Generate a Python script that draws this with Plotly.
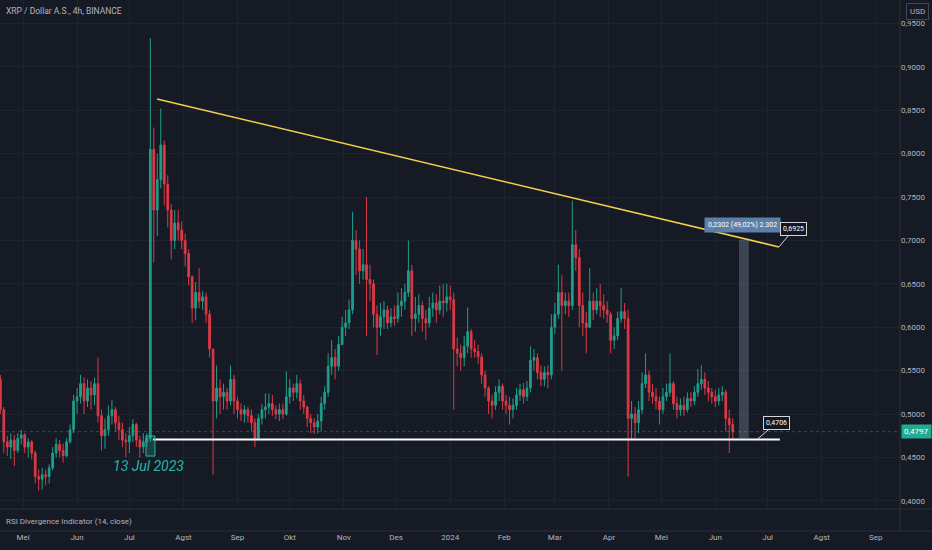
import pandas as pd
import plotly.graph_objects as go

W, H = 932, 550
BG = "#161a25"
GRID = "#1f2330"
TXT = "#b2b5be"

# XRP / USD, 2-day candles (open = previous close)
start_date = "2023-04-18"
first_open = 0.540
close = [
    0.505, 0.468, 0.462, 0.470, 0.458, 0.472, 0.476,  # Apr
    0.462, 0.468, 0.455, 0.428, 0.425, 0.430, 0.428, 0.438, 0.455, 0.465, 0.458, 0.452, 0.468, 0.482, 0.515,  # May
    0.520, 0.535, 0.515, 0.530, 0.522, 0.535, 0.498, 0.475, 0.482, 0.498, 0.505, 0.490, 0.482, 0.470, 0.468,  # Jun
    0.475, 0.488, 0.470, 0.462, 0.468, 0.472, 0.805, 0.735, 0.770, 0.810, 0.765, 0.735, 0.700, 0.720, 0.712, 0.700,  # Jul
    0.685, 0.658, 0.622, 0.640, 0.630, 0.635, 0.615, 0.575, 0.515, 0.530, 0.520, 0.525, 0.515, 0.540, 0.515,  # Aug
    0.505, 0.500, 0.505, 0.498, 0.490, 0.472, 0.495, 0.505, 0.508, 0.512, 0.505, 0.500, 0.505, 0.500, 0.520,  # Sep
    0.530, 0.525, 0.535, 0.515, 0.508, 0.495, 0.490, 0.485, 0.492, 0.512, 0.525, 0.555, 0.565, 0.555, 0.580, 0.600,  # Oct
    0.605, 0.620, 0.700, 0.690, 0.665, 0.672, 0.655, 0.650, 0.615, 0.600, 0.612, 0.620, 0.605, 0.612, 0.610,  # Nov
    0.625, 0.630, 0.640, 0.665, 0.610, 0.615, 0.625, 0.610, 0.605, 0.622, 0.628, 0.620, 0.630, 0.628, 0.635,  # Dec
    0.632, 0.575, 0.570, 0.565, 0.578, 0.595, 0.575, 0.572, 0.566, 0.545, 0.530, 0.515, 0.510, 0.525, 0.532, 0.515,  # Jan
    0.510, 0.505, 0.510, 0.522, 0.528, 0.520, 0.530, 0.562, 0.565, 0.548, 0.540, 0.548, 0.545, 0.600,  # Feb
    0.615, 0.640, 0.625, 0.630, 0.625, 0.695, 0.680, 0.625, 0.605, 0.600, 0.630, 0.620, 0.630, 0.625, 0.620, 0.615,  # Mar
    0.585, 0.590, 0.610, 0.618, 0.610, 0.495, 0.500, 0.490, 0.505, 0.535, 0.545, 0.525, 0.520, 0.515, 0.505,  # Apr
    0.520, 0.525, 0.535, 0.512, 0.505, 0.510, 0.505, 0.518, 0.515, 0.525, 0.535, 0.540, 0.530, 0.525, 0.520, 0.515,  # May
    0.522, 0.525, 0.495, 0.488, 0.4797,  # Jun
]
high = [
    0.545, 0.508, 0.475, 0.478, 0.476, 0.478, 0.482,
    0.478, 0.472, 0.470, 0.458, 0.436, 0.438, 0.436, 0.442, 0.462, 0.472, 0.470, 0.466, 0.472, 0.488, 0.522,
    0.530, 0.545, 0.542, 0.540, 0.538, 0.542, 0.565, 0.505, 0.495, 0.510, 0.516, 0.508, 0.498, 0.490, 0.478,
    0.485, 0.494, 0.490, 0.475, 0.478, 0.478, 0.933, 0.830, 0.800, 0.852, 0.815, 0.775, 0.742, 0.735, 0.735, 0.722,
    0.708, 0.690, 0.660, 0.652, 0.668, 0.642, 0.640, 0.620, 0.575, 0.556, 0.540, 0.535, 0.530, 0.556, 0.545,
    0.520, 0.512, 0.510, 0.508, 0.505, 0.495, 0.500, 0.512, 0.524, 0.524, 0.522, 0.510, 0.512, 0.512, 0.549,
    0.540, 0.535, 0.545, 0.540, 0.522, 0.510, 0.500, 0.495, 0.500, 0.520, 0.532, 0.570, 0.585, 0.575, 0.590, 0.612,
    0.620, 0.632, 0.733, 0.712, 0.700, 0.690, 0.750, 0.672, 0.655, 0.625, 0.628, 0.630, 0.625, 0.622, 0.625,
    0.640, 0.645, 0.650, 0.700, 0.672, 0.635, 0.638, 0.630, 0.620, 0.635, 0.640, 0.638, 0.648, 0.650, 0.650,
    0.648, 0.640, 0.588, 0.580, 0.590, 0.623, 0.598, 0.585, 0.580, 0.570, 0.550, 0.532, 0.522, 0.532, 0.540, 0.535,
    0.522, 0.520, 0.518, 0.530, 0.535, 0.536, 0.538, 0.578, 0.575, 0.570, 0.556, 0.555, 0.556, 0.615,
    0.628, 0.672, 0.660, 0.640, 0.640, 0.746, 0.712, 0.690, 0.640, 0.618, 0.668, 0.640, 0.645, 0.650, 0.638, 0.630,
    0.618, 0.600, 0.618, 0.645, 0.628, 0.620, 0.515, 0.508, 0.515, 0.548, 0.570, 0.550, 0.535, 0.530, 0.520,
    0.530, 0.535, 0.570, 0.538, 0.520, 0.518, 0.520, 0.525, 0.525, 0.532, 0.552, 0.556, 0.548, 0.538, 0.530, 0.528,
    0.530, 0.532, 0.528, 0.505, 0.495,
]
low = [
    0.500, 0.455, 0.452, 0.448, 0.440, 0.455, 0.465,
    0.455, 0.450, 0.448, 0.420, 0.412, 0.413, 0.418, 0.420, 0.435, 0.450, 0.450, 0.444, 0.450, 0.466, 0.478,
    0.500, 0.512, 0.500, 0.508, 0.505, 0.510, 0.490, 0.458, 0.460, 0.475, 0.488, 0.480, 0.470, 0.462, 0.450,
    0.455, 0.468, 0.462, 0.450, 0.455, 0.462, 0.468, 0.675, 0.705, 0.760, 0.740, 0.715, 0.678, 0.690, 0.700, 0.690,
    0.670, 0.648, 0.605, 0.608, 0.622, 0.620, 0.605, 0.565, 0.430, 0.495, 0.500, 0.505, 0.505, 0.510, 0.500,
    0.495, 0.492, 0.490, 0.490, 0.480, 0.462, 0.470, 0.488, 0.495, 0.500, 0.498, 0.494, 0.492, 0.494, 0.498,
    0.512, 0.515, 0.518, 0.505, 0.500, 0.485, 0.478, 0.477, 0.478, 0.480, 0.505, 0.520, 0.545, 0.540, 0.550, 0.580,
    0.590, 0.598, 0.615, 0.660, 0.650, 0.655, 0.590, 0.630, 0.600, 0.568, 0.590, 0.598, 0.598, 0.600, 0.602,
    0.605, 0.612, 0.620, 0.635, 0.590, 0.595, 0.605, 0.595, 0.585, 0.600, 0.612, 0.605, 0.615, 0.612, 0.618,
    0.620, 0.505, 0.555, 0.550, 0.555, 0.570, 0.565, 0.565, 0.558, 0.535, 0.520, 0.500, 0.495, 0.505, 0.515, 0.505,
    0.500, 0.488, 0.495, 0.505, 0.515, 0.512, 0.515, 0.525, 0.550, 0.540, 0.532, 0.532, 0.530, 0.540,
    0.592, 0.610, 0.550, 0.615, 0.612, 0.620, 0.665, 0.600, 0.590, 0.570, 0.605, 0.608, 0.615, 0.612, 0.610, 0.605,
    0.570, 0.575, 0.585, 0.605, 0.598, 0.428, 0.470, 0.472, 0.478, 0.500, 0.530, 0.515, 0.512, 0.505, 0.488,
    0.500, 0.515, 0.520, 0.505, 0.495, 0.498, 0.498, 0.502, 0.508, 0.510, 0.520, 0.528, 0.522, 0.515, 0.512, 0.508,
    0.510, 0.515, 0.480, 0.455, 0.470,
]
dates = pd.date_range(start_date, periods=len(close), freq="2D")
opens = [first_open] + close[:-1]

# axis labels (Indonesian locale, comma decimals)
month_ticks = pd.date_range("2023-05-01", "2024-09-01", freq="MS")
month_labels = ["Mei", "Jun", "Jul", "Agst", "Sep", "Okt", "Nov", "Des", "2024",
                "Feb", "Mar", "Apr", "Mei", "Jun", "Jul", "Agst", "Sep"]
price_ticks = [0.40, 0.45, 0.50, 0.55, 0.60, 0.65, 0.70, 0.75, 0.80, 0.85, 0.90, 0.95]
price_labels = ["0,4000", "0,4500", "0,5000", "0,5500", "0,6000", "0,6500",
                "0,7000", "0,7500", "0,8000", "0,8500", "0,9000", "0,9500"]

# drawings
last_price = 0.4797
support_price = 0.4706
support_dates = ["2023-07-14 12:00", "2024-07-08 00:00"]
trend_dates = ["2023-07-16 20:00", "2024-07-07 12:00"]
trend_prices = [0.863, 0.6925]
box_dates = ["2023-07-10 12:00", "2023-07-15 16:00"]
box_prices = [0.4516, 0.4747]
measure_dates = ["2024-06-14 14:00", "2024-06-20 06:00"]
measure_top = 0.7008
x_range = ["2023-04-17 19:30", "2024-09-14 22:00"]
y_range = [0.3906, 0.977]

XD = 900 / W  # right edge of the chart area (price scale to its right)
Y_MAIN = 41 / H
Y_RSI = 19 / H

fig = go.Figure()
fig.add_trace(go.Candlestick(
    x=dates, open=opens, high=high, low=low, close=close,
    increasing=dict(line=dict(color="#1f9e8a", width=1), fillcolor="#1f9e8a"),
    decreasing=dict(line=dict(color="#dc3a46", width=1), fillcolor="#dc3a46"),
    whiskerwidth=0, showlegend=False, hoverinfo="skip",
))
fig.add_trace(go.Scatter(
    x=trend_dates, y=trend_prices, mode="lines",
    line=dict(color="#f2d04b", width=1.6), showlegend=False, hoverinfo="skip",
))
fig.add_trace(go.Scatter(
    x=support_dates, y=[support_price, support_price], mode="lines",
    line=dict(color="#ffffff", width=2), showlegend=False, hoverinfo="skip",
))
# empty trace so the indicator pane / time axis is drawn
fig.add_trace(go.Scatter(x=[], y=[], xaxis="x2", yaxis="y2", showlegend=False))

shapes = [
    # last price line
    dict(type="line", xref="paper", yref="y", x0=0, x1=XD, y0=last_price, y1=last_price,
         line=dict(color="rgba(34,171,148,0.45)", width=1, dash="dot")),
    # 13 Jul marker box
    dict(type="rect", xref="x", yref="y", x0=box_dates[0], x1=box_dates[1],
         y0=box_prices[0], y1=box_prices[1],
         line=dict(color="#2bb5a3", width=1), fillcolor="rgba(43,181,163,0.25)"),
    # price range measure
    dict(type="rect", xref="x", yref="y", x0=measure_dates[0], x1=measure_dates[1],
         y0=support_price, y1=measure_top,
         line=dict(width=0), fillcolor="rgba(150,162,185,0.3)"),
    # pane borders
    dict(type="line", xref="paper", yref="paper", x0=0, x1=1, y0=Y_MAIN, y1=Y_MAIN,
         line=dict(color="#2a2e39", width=1)),
    dict(type="line", xref="paper", yref="paper", x0=0, x1=1, y0=Y_RSI, y1=Y_RSI,
         line=dict(color="#2a2e39", width=1)),
    dict(type="line", xref="paper", yref="paper", x0=XD, x1=XD, y0=Y_RSI, y1=1,
         line=dict(color="#2a2e39", width=1)),
]

small = dict(family="Roboto", size=8, color=TXT)
annotations = [
    dict(text="XRP / Dollar A.S., 4h, BINANCE", xref="paper", yref="paper",
         x=4 / W, y=1 - 11 / H, xanchor="left", yanchor="middle", showarrow=False,
         font=dict(family="Roboto", size=8.5, color=TXT)),
    dict(text="RSI Divergence Indicator (14, close)", xref="paper", yref="paper",
         x=4 / W, y=1 - 521 / H, xanchor="left", yanchor="middle", showarrow=False,
         font=small),
    dict(text="<i>13 Jul 2023</i>", xref="x", yref="y", x="2023-07-12 06:00", y=0.440,
         showarrow=False, font=dict(family="Roboto", size=14, color="#2bb5a3")),
    dict(text="0,2302 (49,02%) 2.302", xref="x", yref="y", x="2024-06-16 14:00", y=0.7177,
         showarrow=False, bgcolor="#5a7fab", borderpad=3,
         font=dict(family="Roboto", size=7, color="#ffffff")),
    dict(text="0,6925", xref="x", yref="y", x=trend_dates[1], y=trend_prices[1],
         ax=15, ay=-18, showarrow=True, arrowhead=0, arrowwidth=1, arrowcolor="#d1d4dc",
         bgcolor="#131722", bordercolor="#d1d4dc", borderwidth=1, borderpad=2,
         font=dict(family="Roboto", size=7, color="#ffffff")),
    dict(text="0,4706", xref="x", yref="y", x="2024-06-24 21:00", y=support_price,
         ax=20, ay=-17, showarrow=True, arrowhead=0, arrowwidth=1, arrowcolor="#d1d4dc",
         bgcolor="#131722", bordercolor="#d1d4dc", borderwidth=1, borderpad=2,
         font=dict(family="Roboto", size=7, color="#ffffff")),
    dict(text="0,4797", xref="paper", yref="y", x=1, y=last_price, xanchor="right",
         showarrow=False, bgcolor="#22ab94", borderpad=2,
         font=dict(family="Roboto", size=8, color="#ffffff")),
    dict(text="USD", xref="paper", yref="paper", x=917 / W, y=1 - 11 / H,
         xanchor="center", yanchor="middle",
         showarrow=False, bgcolor=BG, bordercolor="#434651", borderwidth=1, borderpad=3,
         font=small),
]

fig.update_layout(
    width=W, height=H,
    margin=dict(l=0, r=0, t=0, b=0),
    paper_bgcolor=BG, plot_bgcolor=BG,
    showlegend=False,
    xaxis=dict(type="date", domain=[0, XD], range=x_range, anchor="y",
               tickvals=month_ticks, showticklabels=False, ticks="",
               showgrid=True, gridcolor=GRID, gridwidth=1, zeroline=False,
               rangeslider=dict(visible=False)),
    xaxis2=dict(type="date", domain=[0, XD], matches="x", anchor="y2",
                tickvals=month_ticks, ticktext=month_labels, ticks="",
                showgrid=False, zeroline=False, tickfont=small),
    yaxis=dict(domain=[Y_MAIN, 1], range=y_range, side="right", anchor="x",
               tickvals=price_ticks, ticktext=price_labels, ticks="",
               showgrid=True, gridcolor=GRID, zeroline=False, tickfont=small),
    yaxis2=dict(domain=[Y_RSI, Y_MAIN], range=[0, 100], side="right", anchor="x2",
                showticklabels=False, showgrid=False, zeroline=False),
    shapes=shapes,
    annotations=annotations,
)

# page has a default 8px body margin; drop it so the figure fills the window
fig.write_html("out.html", config={"displayModeBar": False},
               post_script="document.body.style.margin='0';")
